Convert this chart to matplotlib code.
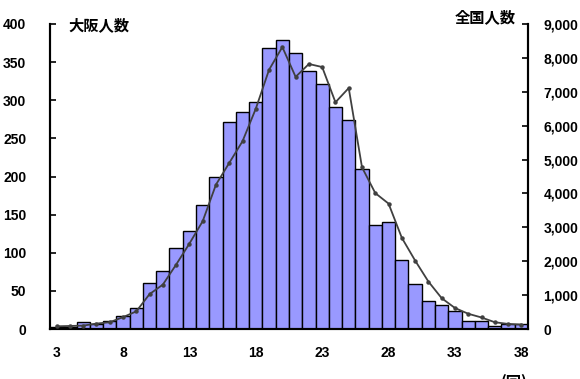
import numpy as np
import matplotlib
matplotlib.use("Agg")
import matplotlib.pyplot as plt
from matplotlib.ticker import FuncFormatter

# 得点 (3..38)
scores = list(range(3, 39))

# 大阪人数 (左軸, 棒)
osaka = [3, 3, 9, 7, 11, 17, 27, 60, 76, 106, 129, 163, 200, 271, 284, 298,
         369, 379, 362, 339, 321, 291, 274, 210, 137, 140, 90, 59, 37, 32,
         23, 10, 10, 4, 6, 6]

# 全国人数 (右軸, 折れ線)
zenkoku = [80, 90, 100, 160, 200, 350, 520, 1030, 1310, 1900, 2520, 3180,
           4260, 4900, 5540, 6500, 7650, 8320, 7440, 7820, 7730, 6690, 7110,
           4770, 4010, 3700, 2690, 2020, 1400, 910, 620, 450, 340, 200, 150, 130]

x_ticks = [3, 8, 13, 18, 23, 28, 33, 38]

num_font = ['DejaVu Sans Condensed', 'Liberation Sans', 'DejaVu Sans']
jp_font = ['Noto Sans CJK JP', 'DejaVu Sans']

fig = plt.figure(figsize=(5.8, 3.79), dpi=100)
ax = fig.add_axes([0.0862, 0.1319, 0.8241, 0.8048])
ax2 = ax.twinx()

ax.bar(scores, osaka, width=1.0, color='#9999ff', edgecolor='black', linewidth=1.0, zorder=2)
ax2.plot(scores, zenkoku, color='#404040', lw=1.3, marker='o', markersize=2.2, zorder=3)

ax.set_xlim(2.5, 38.5)
ax.set_ylim(0, 400)
ax2.set_ylim(0, 9000)
ax.set_yticks(range(0, 401, 50))
ax2.set_yticks(range(0, 9001, 1000))
ax2.yaxis.set_major_formatter(FuncFormatter(lambda v, p: f"{int(v):,}"))
ax.set_xticks(x_ticks)

for a in (ax, ax2):
    a.spines['top'].set_visible(False)
    for s in ('left', 'right', 'bottom'):
        a.spines[s].set_linewidth(1.5)

ax.tick_params(axis='y', direction='in', length=4, width=1.2, pad=17)
ax2.tick_params(axis='y', direction='in', length=4, width=1.2, pad=11)
ax.tick_params(axis='x', length=0, pad=12)

for lbl in ax.get_yticklabels() + ax2.get_yticklabels() + ax.get_xticklabels():
    lbl.set_family(num_font)
    lbl.set_fontweight('bold')
    lbl.set_fontsize(10)

fig.text(68 / 580, 1 - 25 / 379, '大阪人数', family=jp_font, fontweight='bold',
         fontsize=11, ha='left', va='center')
fig.text(455 / 580, 1 - 17 / 379, '全国人数', family=jp_font, fontweight='bold',
         fontsize=11, ha='left', va='center')
fig.text(514 / 580, 1 - 374 / 379, '(回)', family=jp_font, fontweight='bold',
         fontsize=11, ha='center', va='top')

fig.savefig('out.png', dpi=100)
